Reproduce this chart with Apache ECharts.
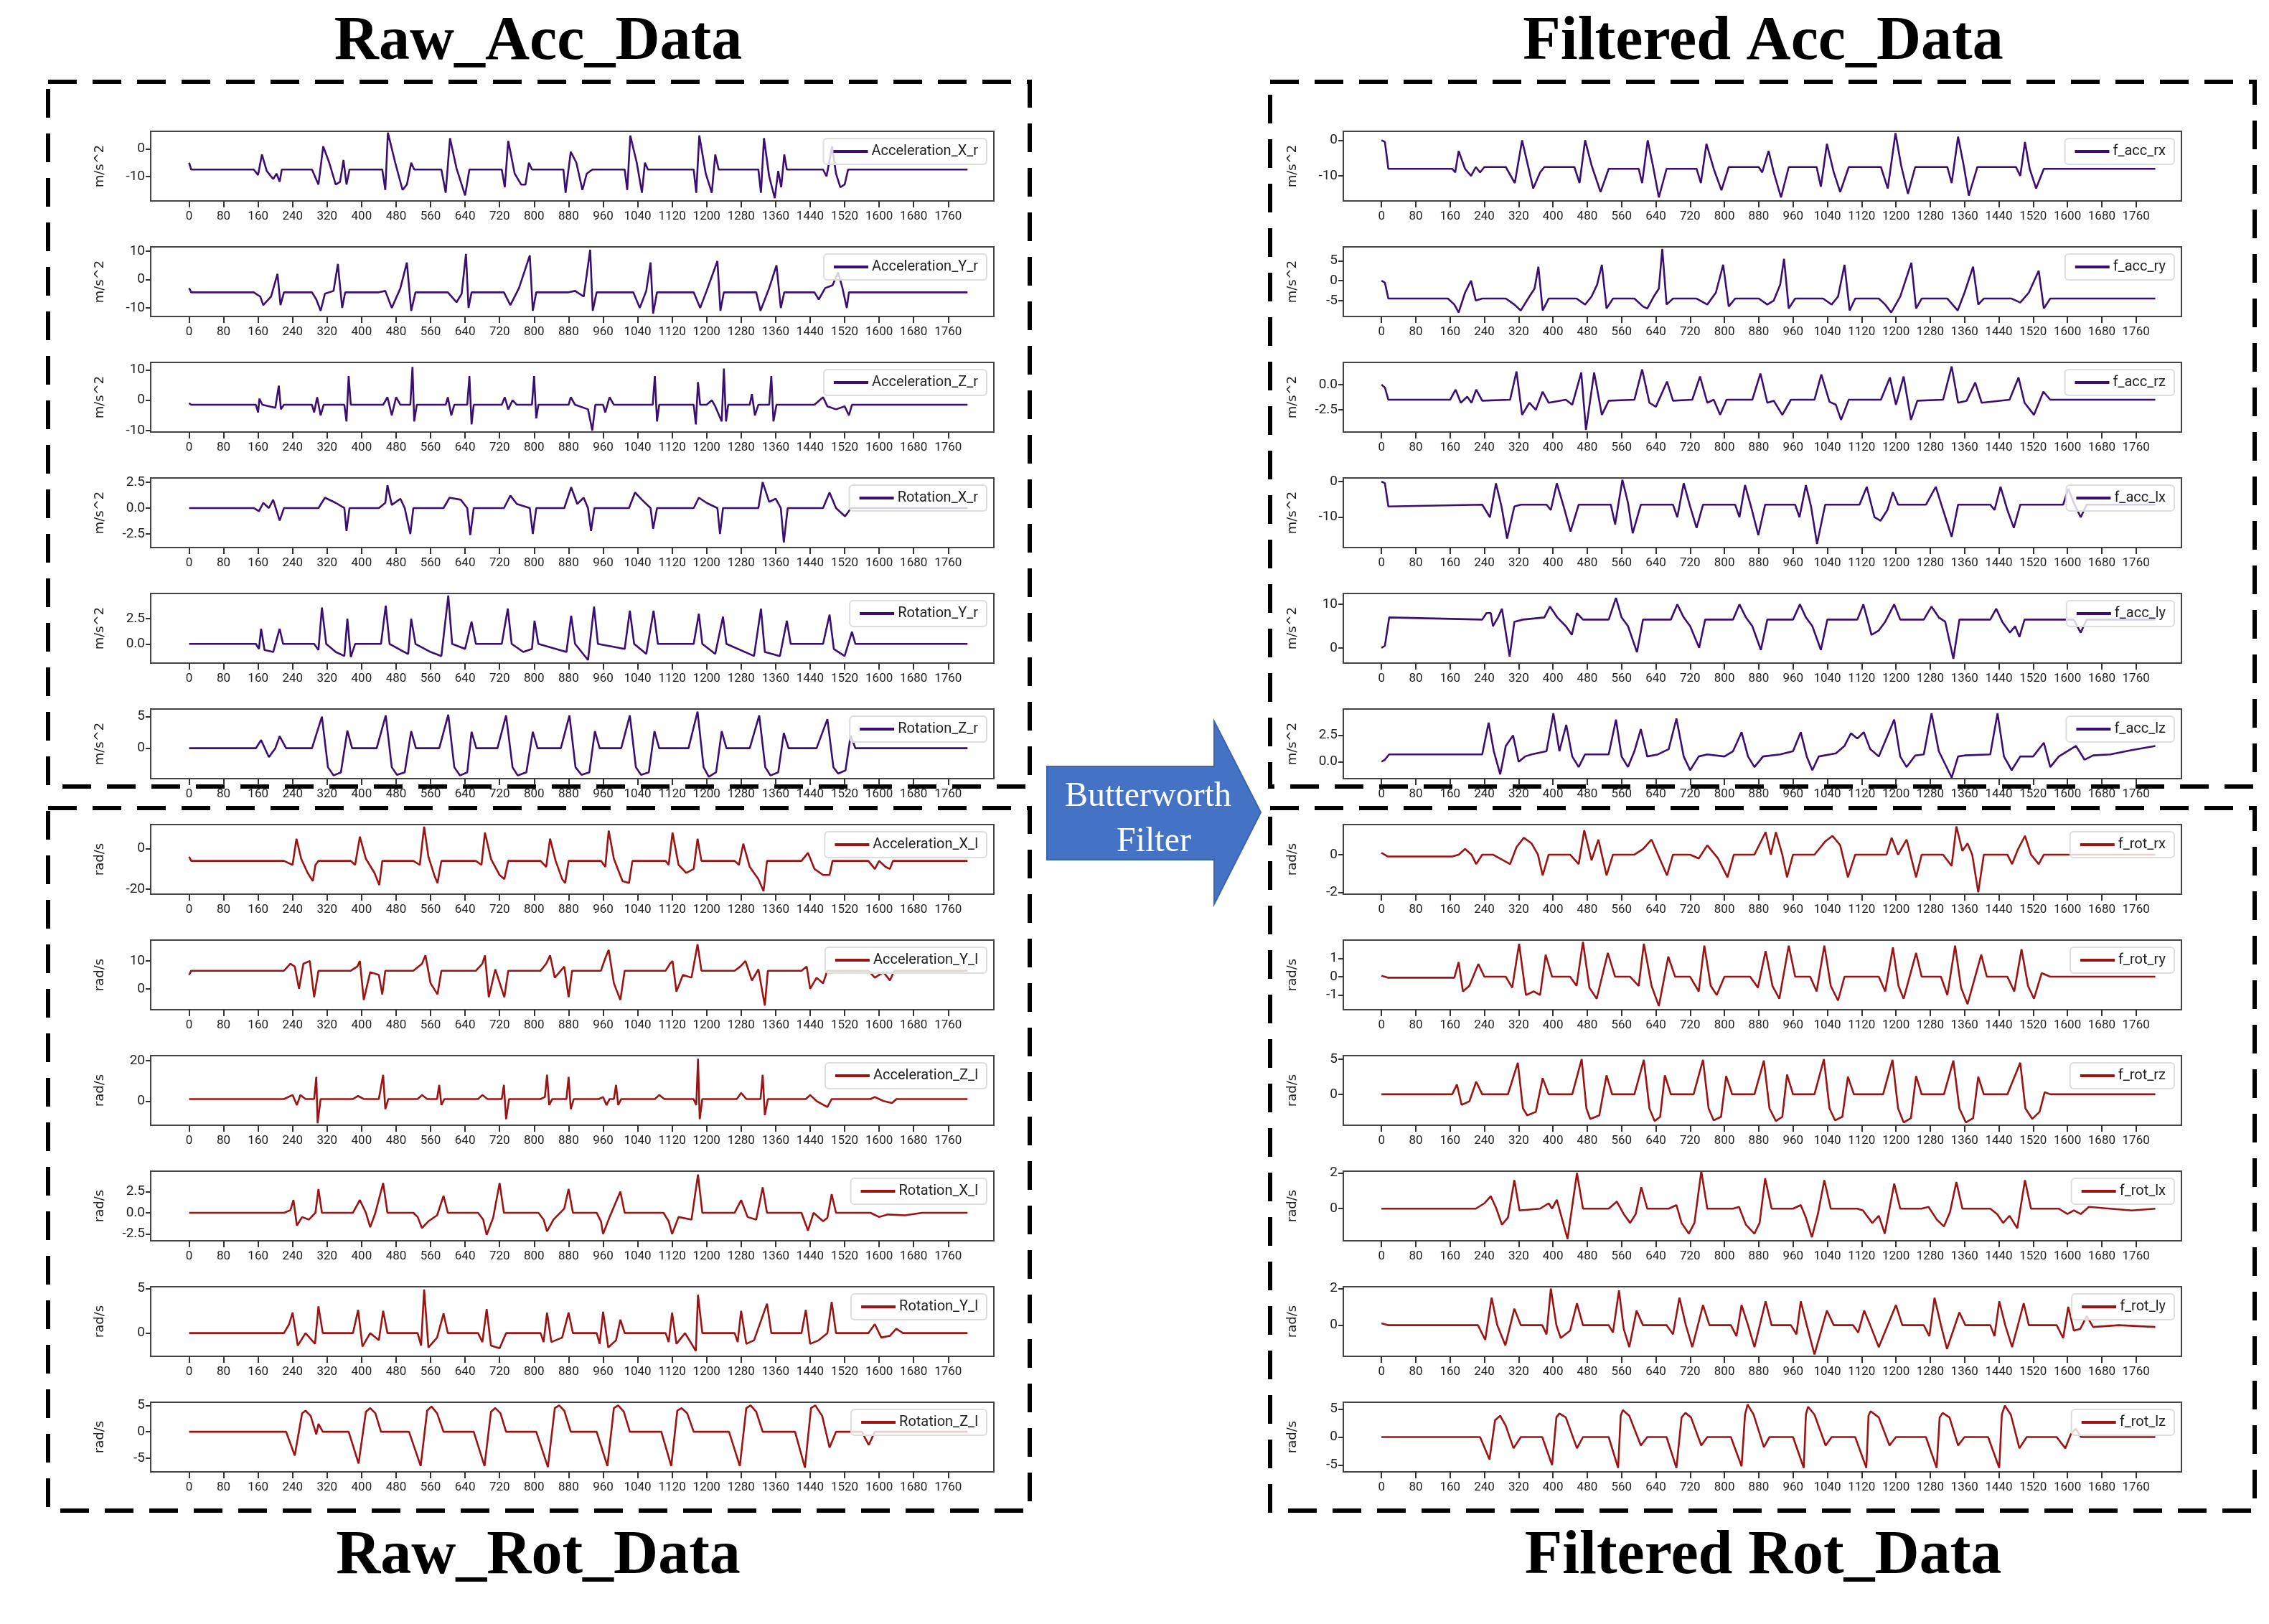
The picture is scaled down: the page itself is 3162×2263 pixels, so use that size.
<!DOCTYPE html>
<html>
<head>
<meta charset="utf-8">
<script src="https://cdn.jsdelivr.net/npm/echarts@6/dist/echarts.min.js"></script>
<style>
html,body{margin:0;padding:0;background:#fff}
#main{width:3162px;height:2263px}
</style>
</head>
<body>
<div id="main"></div>
<script>
// ---------------- data ----------------
const xTicks=[0,80,160,240,320,400,480,560,640,720,800,880,960,1040,1120,1200,1280,1360,1440,1520,1600,1680,1760]

// left column, top block (raw acc)
const accXr=[[0,-5],[5,-7.5],[150,-7.5],[160,-9.5],[169,-2],[180,-8],[195,-11],[203,-9],[210,-12],[215,-7.5],[285,-7.5],[300,-13],[311,1],[325,-5],[340,-13],[350,-12],[358,-4],[365,-13],[372,-7.5],[448,-7.5],[455,-15],[461,6],[478,-5],[495,-15],[505,-13],[515,-5],[522,-7.5],[585,-7.5],[595,-16],[605,4],[620,-7],[640,-17],[650,-7.5],[725,-7.5],[732,-14],[740,3],[755,-9],[770,-13],[780,-13],[788,-5],[795,-7.5],[868,-7.5],[873,-16],[885,-1],[898,-5],[912,-15],[922,-9],[935,-7.5],[1010,-7.5],[1016,-15],[1023,5],[1038,-5],[1050,-16],[1057,-5],[1064,-7.5],[1170,-7.5],[1176,-16],[1183,5],[1198,-9],[1212,-16],[1220,-2],[1228,-7.5],[1320,-7.5],[1326,-16],[1333,4],[1345,-10],[1358,-18],[1366,-8],[1373,-14],[1380,-2],[1386,-7.5],[1470,-7.5],[1478,-10],[1491,1],[1500,-9],[1510,-14],[1520,-13],[1528,-7.5],[1805,-7.5]]
const accYr=[[0,-3],[5,-4.5],[150,-4.5],[165,-6],[172,-9],[190,-6],[205,2],[212,-9],[220,-4.5],[285,-4.5],[295,-7],[305,-11],[315,-5],[335,-4],[345,5.5],[355,-10],[362,-4.5],[440,-4.5],[455,-4],[470,-10],[490,-3],[505,6],[515,-11],[525,-4.5],[600,-4.5],[620,-8],[632,-5],[642,9],[648,-10],[655,-4.5],[730,-4.5],[745,-9],[765,-3],[790,8.5],[797,-11],[805,-4.5],[880,-4.5],[895,-4],[915,-6],[930,10.5],[936,-11],[945,-4.5],[1030,-4.5],[1045,-10],[1060,-4],[1070,6],[1076,-12],[1085,-4.5],[1170,-4.5],[1185,-10],[1200,-4],[1225,6.5],[1232,-11],[1240,-4.5],[1315,-4.5],[1325,-11],[1345,-3],[1362,5],[1372,-10],[1380,-4.5],[1450,-4.5],[1460,-7],[1475,-3],[1492,-2],[1505,2.5],[1515,-3],[1525,-10],[1530,-4.5],[1805,-4.5]]
const accZr=[[0,-1],[5,-1.5],[155,-1.5],[160,-4],[163,0.5],[170,-1.5],[200,-2.5],[208,4.8],[213,-3],[220,-1.5],[285,-1.5],[290,-4],[297,1],[305,-5],[312,-1.5],[360,-1.5],[365,-7],[370,8],[375,-1.5],[450,-1.5],[460,1],[470,-5],[480,1],[490,-1.5],[513,-1.5],[518,11],[522,-7],[528,-1.5],[595,-1.5],[600,1],[608,-5],[615,-1.5],[645,-1.5],[650,8],[655,-8],[660,-1.5],[725,-1.5],[732,1],[740,-3],[750,0],[760,-1.5],[795,-1.5],[800,8],[805,-6],[810,-1.5],[880,-1.5],[885,1],[895,-1.5],[925,-3],[935,-10],[942,-1.5],[960,-1.5],[965,-4],[975,1],[985,-1.5],[1075,-1.5],[1080,8],[1085,-7],[1090,-1.5],[1170,-1.5],[1175,-8],[1180,6],[1185,-1.5],[1200,-1.5],[1212,0],[1220,-2],[1235,-7],[1240,10.5],[1245,-7],[1250,-1.5],[1300,-1.5],[1305,2],[1312,-5],[1320,-1.5],[1345,-1.5],[1350,8],[1355,-7],[1362,-1.5],[1450,-1.5],[1470,1],[1480,-2],[1500,-3],[1520,-2],[1530,-5],[1537,-1.5],[1805,-1.5]]
const rotXr=[[0,0],[150,0],[162,-0.3],[172,0.5],[185,0],[195,0.8],[210,-1.2],[220,0],[300,0],[315,1],[340,0.5],[360,0],[365,-2.2],[372,0],[440,0],[455,0.5],[460,2.2],[470,0.3],[490,0.9],[500,0],[513,-2.5],[520,0],[590,0],[604,1],[630,0.8],[645,0],[652,-2.6],[660,0],[730,0],[745,1.2],[760,0.4],[790,0],[797,-2.5],[805,0],[870,0],[886,2],[900,0.4],[915,1],[925,0],[932,-2.2],[940,0],[1020,0],[1034,1.5],[1050,0.8],[1070,0],[1076,-2],[1085,0],[1170,0],[1182,1],[1200,0.5],[1225,0],[1231,-2.5],[1238,0],[1320,0],[1330,2.5],[1345,0.6],[1360,0.9],[1372,0],[1379,-3.3],[1388,0],[1470,0],[1485,1.5],[1500,0],[1521,-0.8],[1535,0],[1805,0]]
const rotYr=[[0,0],[155,0],[162,-0.5],[167,1.5],[175,-0.6],[195,-0.8],[210,1.5],[218,0],[290,0],[300,-0.6],[308,3.6],[318,0],[340,-0.8],[360,-1.2],[367,2.5],[375,-1.3],[385,0],[445,0],[456,3.8],[465,0],[490,-0.6],[508,-1],[515,2.5],[525,0],[560,-0.8],[585,-1.2],[601,4.8],[610,0],[640,-0.5],[655,2.2],[665,0],[725,0],[739,3.5],[748,0],[775,-0.8],[795,-0.5],[801,2.3],[810,0],[875,-0.8],[886,2.8],[895,0],[925,-1.6],[939,3.7],[948,0],[1010,-0.5],[1022,3.3],[1032,0],[1060,-1],[1077,3.3],[1087,0],[1170,0],[1182,3],[1190,0],[1220,-1],[1238,2.7],[1246,0],[1310,-1.2],[1326,3.5],[1335,-0.8],[1370,-1.2],[1386,2.3],[1395,0],[1470,0],[1485,2.9],[1495,-0.5],[1520,-1.2],[1537,1.2],[1545,0],[1805,0]]
const rotZr=[[0,0],[155,0],[167,1.3],[185,-1.4],[200,0],[210,1.9],[225,0],[285,0],[308,5],[322,-3],[335,-4.3],[352,-3.8],[367,2.8],[378,0],[435,0],[456,5.2],[470,-3],[482,-4.2],[500,-3.8],[515,2.7],[526,0],[580,0],[601,5.3],[615,-3],[628,-4.3],[645,-3.8],[655,2.6],[666,0],[715,0],[735,5.2],[750,-3],[762,-4.3],[782,-3.8],[797,2.6],[808,0],[862,0],[882,5.2],[896,-3],[910,-4.2],[928,-3.8],[941,2.7],[952,0],[1002,0],[1022,5.2],[1036,-3],[1048,-4.2],[1066,-3.8],[1079,2.7],[1090,0],[1158,0],[1179,5.8],[1193,-3],[1205,-4.5],[1222,-3.8],[1235,2.7],[1246,0],[1300,0],[1322,5.2],[1336,-3],[1348,-4.3],[1366,-3.8],[1379,2.4],[1390,0],[1455,0],[1480,4.6],[1494,-3],[1505,-4],[1522,-3.5],[1534,2],[1545,0],[1805,0]]

// left column, bottom block (raw rot)
const accXl=[[0,-4],[5,-6],[220,-6],[240,-8],[249,5],[260,-5],[275,-12],[287,-16],[293,-8],[300,-6],[375,-6],[385,-8],[396,6],[410,-5],[430,-12],[441,-18],[448,-6],[520,-6],[535,-8],[545,11],[555,-4],[570,-14],[576,-17],[585,-6],[665,-6],[678,-8],[686,8],[700,-5],[720,-13],[731,-15],[740,-6],[815,-6],[828,-9],[837,5],[850,-6],[865,-15],[872,-17],[880,-6],[955,-6],[965,-9],[973,9],[985,-5],[1005,-16],[1020,-17],[1028,-6],[1105,-6],[1112,-8],[1121,8],[1135,-8],[1153,-12],[1170,-10],[1179,5],[1188,-6],[1265,-6],[1275,-8],[1285,2.5],[1300,-9],[1320,-15],[1332,-21],[1340,-6],[1420,-6],[1435,-2],[1450,-10],[1470,-13],[1485,-13],[1492,-6],[1575,-6],[1590,-10],[1600,-6],[1615,-9],[1625,-10],[1632,-6],[1805,-6]]
const accYl=[[0,5],[5,6.5],[220,6.5],[235,9],[245,8],[255,0],[265,9],[280,10],[290,-3],[300,6.5],[375,6.5],[390,8],[396,10],[405,-4],[420,6],[440,5],[448,-2],[455,6.5],[520,6.5],[540,9],[548,12],[560,2],[576,-2],[585,6.5],[665,6.5],[680,9],[686,12],[695,-3],[710,7],[731,-3],[740,6.5],[815,6.5],[828,9],[837,12],[848,4],[870,8],[880,-3],[888,6.5],[955,6.5],[965,11],[973,14],[985,2],[1000,-4],[1010,6.5],[1105,6.5],[1115,9],[1121,10],[1130,-1],[1145,5],[1165,4],[1179,16],[1188,6.5],[1265,6.5],[1278,8],[1290,10],[1305,3],[1320,7],[1335,-6],[1342,6.5],[1420,6.5],[1432,8],[1440,0],[1455,4],[1470,2],[1480,6.5],[1575,6.5],[1590,4],[1610,6],[1625,3],[1635,6.5],[1805,6.5]]
const accZl=[[0,1],[220,1],[240,3],[250,-2],[258,3],[270,1],[290,1],[295,12],[298,-11],[305,1],[380,1],[392,2.5],[405,1],[440,1],[450,13],[455,-4],[462,1],[530,1],[540,3],[552,1],[575,1],[580,8],[585,-2],[592,1],[670,1],[680,3],[692,1],[725,1],[730,8],[735,-9],[742,1],[815,1],[825,2],[830,13],[835,-2],[842,1],[875,1],[880,12],[885,-4],[892,1],[950,1],[960,2],[968,-2],[975,1],[985,1],[990,8],[995,-2],[1002,1],[1080,1],[1090,3],[1102,1],[1170,1],[1176,-2],[1180,21],[1184,-9],[1190,1],[1270,1],[1280,4],[1292,1],[1325,1],[1330,13],[1335,-7],[1342,1],[1430,1],[1440,3],[1455,0],[1480,-3],[1490,1],[1580,1],[1590,2],[1610,0],[1630,-1],[1640,1],[1805,1]]
const rotXl=[[0,0],[220,0],[235,0.3],[242,1.5],[250,-1.5],[262,-0.5],[278,-0.8],[293,0],[300,2.8],[308,0],[380,0],[396,1.5],[410,0],[420,-1.7],[432,0],[450,3.5],[460,0],[520,0],[530,-0.5],[540,-1.8],[555,-1],[575,-0.3],[590,2],[600,0],[670,0],[682,-0.8],[690,-2.6],[705,-0.6],[720,3.5],[730,0],[810,0],[822,-0.8],[830,-2.2],[845,-0.8],[870,0.5],[880,2.8],[890,0],[945,0],[955,-1],[960,-2.5],[975,-0.5],[1000,2.5],[1010,0],[1100,0],[1112,-1],[1120,-2.5],[1135,-0.5],[1165,-0.8],[1180,4.5],[1190,0],[1265,0],[1280,1.5],[1295,-0.5],[1315,-0.8],[1330,3],[1340,0],[1420,0],[1435,-2.1],[1448,0],[1470,-1],[1480,-0.6],[1490,2.2],[1500,0],[1580,0],[1600,-0.5],[1620,-0.2],[1660,-0.3],[1700,0],[1805,0]]
const rotYl=[[0,0],[220,0],[232,1],[240,2.3],[252,-1.4],[270,0],[292,-1.2],[300,3],[310,0],[380,0],[392,2.6],[402,-1.5],[420,0],[440,-0.8],[450,2.5],[460,0],[530,0],[538,-1.4],[545,4.9],[555,-1.6],[575,-0.5],[590,2.2],[600,0],[670,0],[680,-1],[690,2.7],[700,-1.4],[720,-1.7],[735,0],[815,0],[822,-1],[830,2.3],[840,-1],[865,-0.5],[880,2.3],[890,0],[945,0],[952,-1.2],[960,2.4],[972,-1.6],[990,-0.8],[1000,1.5],[1010,0],[1105,0],[1112,-1],[1120,2.3],[1130,-1.2],[1150,0],[1175,-2],[1180,4.3],[1190,0],[1265,0],[1272,-1],[1280,2.5],[1292,-1.2],[1310,-0.8],[1340,3.3],[1350,0],[1420,0],[1430,2.6],[1440,-1.2],[1460,-0.8],[1480,0],[1490,3.5],[1500,0],[1575,0],[1590,1],[1605,-0.5],[1625,-0.3],[1640,0.5],[1655,0],[1805,0]]
const rotZl=[[0,0],[225,0],[245,-4.5],[262,3.5],[270,4],[282,3],[295,-0.5],[300,1.5],[310,0],[370,0],[393,-6],[410,3.8],[420,4.5],[432,3.5],[445,0],[510,0],[537,-6.5],[552,4],[562,4.8],[575,3.5],[590,0],[660,0],[685,-6.5],[700,3.8],[710,4.5],[722,3.5],[735,0],[805,0],[832,-6.7],[848,4.5],[858,5],[870,4],[885,0],[945,0],[970,-6.5],[985,4.5],[995,5],[1008,3.8],[1022,0],[1095,0],[1118,-6.5],[1132,4],[1142,4.5],[1155,3.5],[1170,0],[1252,0],[1277,-6.5],[1292,4.5],[1302,5],[1315,3.8],[1330,0],[1405,0],[1428,-6.8],[1442,4.5],[1452,5],[1468,3],[1485,-3],[1500,0],[1560,0],[1576,-2.5],[1590,0],[1805,0]]

// right column, top block (filtered acc)
const fAccRx=[[0,0],[8,-0.5],[16,-8],[165,-8],[172,-9],[180,-3],[195,-8],[209,-10],[220,-7.5],[230,-9],[240,-7.5],[290,-7.5],[311,-12],[328,0],[354,-13.5],[370,-9],[380,-7.5],[450,-7.5],[462,-12],[475,0],[490,-7],[511,-14.5],[530,-8],[600,-8],[608,-12],[621,0],[633,-7],[647,-16],[665,-8],[735,-8],[745,-12],[758,-1],[775,-8],[793,-14],[810,-7.5],[880,-7.5],[888,-9],[903,-3],[915,-9],[932,-16],[950,-7.5],[1015,-7.5],[1025,-13],[1039,-1],[1055,-9],[1070,-14.5],[1090,-7.5],[1165,-7.5],[1181,-13.5],[1199,2],[1212,-7],[1228,-15],[1245,-7.5],[1320,-7.5],[1330,-12],[1345,1],[1358,-7],[1370,-15.5],[1390,-7.5],[1480,-7.5],[1490,-10],[1501,-0.5],[1512,-8],[1527,-13.5],[1545,-8],[1805,-8]]
const fAccRy=[[0,0],[8,-0.5],[16,-4.5],[155,-4.5],[170,-6],[180,-8],[195,-3],[209,0],[220,-5],[235,-4.5],[290,-4.5],[310,-6],[325,-7.5],[345,-4],[357,-2],[366,3.5],[376,-7.5],[390,-4.5],[455,-4.5],[475,-6],[490,-4],[503,-1],[514,4],[525,-7],[540,-4.5],[590,-4.5],[610,-6.5],[620,-7],[635,-4],[647,-2],[655,8],[665,-6],[680,-4.5],[735,-4.5],[760,-6],[780,-3],[797,4],[810,-6.5],[825,-4.5],[880,-4.5],[900,-6],[915,-5],[930,-1],[939,5.5],[950,-7],[965,-4.5],[1030,-4.5],[1050,-6],[1065,-4],[1080,4],[1092,-7.5],[1105,-4.5],[1160,-4.5],[1175,-6],[1189,-8],[1210,-4],[1236,4.5],[1247,-7],[1260,-4.5],[1320,-4.5],[1344,-7.5],[1360,-3],[1380,3.5],[1392,-6],[1405,-4.5],[1470,-4.5],[1490,-5.5],[1510,-3],[1533,2.5],[1545,-7],[1560,-4.5],[1805,-4.5]]
const fAccRz=[[0,0],[8,-0.3],[16,-1.5],[160,-1.5],[173,-0.5],[185,-1.8],[200,-1.2],[210,-1.8],[221,-0.5],[235,-1.6],[300,-1.5],[315,1.3],[328,-3],[345,-1.8],[360,-2.5],[376,-0.7],[390,-1.8],[430,-1.5],[445,-2],[466,1.2],[477,-4.5],[496,1.2],[514,-3],[530,-1.6],[590,-1.5],[608,1.5],[625,-1.8],[640,-2.2],[666,0.3],[680,-1.6],[725,-1.5],[743,0.8],[760,-1.8],[775,-1.5],[790,-3],[805,-1.5],[865,-1.5],[884,1.1],[900,-1.8],[915,-1.6],[935,-3],[955,-1.5],[1010,-1.5],[1026,1],[1045,-1.7],[1060,-2],[1072,-3.5],[1090,-1.5],[1165,-1.5],[1186,0.7],[1200,-2],[1218,0.8],[1235,-3.5],[1250,-1.6],[1310,-1.5],[1330,1.8],[1345,-1.8],[1365,-1.6],[1385,0.2],[1400,-1.8],[1465,-1.5],[1486,0.7],[1500,-1.8],[1522,-3],[1544,-0.7],[1560,-1.5],[1805,-1.5]]
const fAccLx=[[0,0],[8,-0.5],[16,-7],[235,-6.5],[253,-10],[267,-0.5],[280,-7],[293,-16],[310,-7],[325,-6.5],[385,-6.5],[395,-8],[409,-0.5],[425,-7],[441,-14],[460,-6.5],[535,-6.5],[545,-12],[562,0.5],[575,-6],[586,-14.5],[605,-6.5],[680,-6.5],[690,-10],[705,-0.5],[720,-7],[735,-13],[750,-6.5],[825,-6.5],[835,-10],[848,-1],[862,-7],[879,-15],[895,-6.5],[965,-6.5],[975,-10],[990,-1],[1002,-7],[1016,-17.5],[1035,-6.5],[1115,-6.5],[1132,-1.5],[1150,-10],[1164,-11],[1180,-8],[1193,-3],[1205,-6.5],[1270,-6.5],[1293,-1.5],[1310,-8],[1330,-15.5],[1345,-6.5],[1420,-6.5],[1430,-8],[1444,-1.5],[1460,-8],[1475,-13],[1490,-6.5],[1590,-6.5],[1602,-2],[1615,-6],[1631,-10],[1645,-6.5],[1805,-6.5]]
const fAccLy=[[0,0],[8,0.5],[18,7],[235,6.5],[245,8],[255,8],[260,5],[272,7],[281,9],[299,-2],[310,6],[330,6.5],[380,7],[393,9.5],[410,7],[430,5],[444,3],[456,8],[470,6.5],[530,6.5],[547,11.5],[560,7],[575,5],[596,-1],[610,6.5],[675,6.5],[690,10],[705,7],[720,5],[741,0],[755,6.5],[820,6.5],[835,10],[850,7],[865,5],[885,-0.5],[900,6.5],[960,6.5],[976,10],[990,7],[1005,5],[1025,-0.5],[1040,6.5],[1110,6.5],[1124,10],[1135,6],[1143,3],[1160,4],[1175,6],[1196,10],[1210,6.5],[1265,6.5],[1283,9.5],[1300,7],[1315,6],[1334,-2.5],[1348,6.5],[1420,6.5],[1434,9],[1448,6],[1466,3.5],[1478,5],[1488,2.5],[1500,6.5],[1615,6.5],[1631,3.5],[1645,6.5],[1805,6.5]]
const fAccLz=[[0,0],[8,0.2],[18,0.7],[235,0.7],[250,3.7],[262,1],[277,-1.2],[290,1.5],[307,2.5],[320,0],[335,0.5],[350,0.7],[385,1],[401,4.6],[415,1],[431,3.5],[445,0.5],[460,-0.5],[475,0.7],[530,0.7],[547,4],[560,0.5],[575,-0.5],[590,1],[605,3.1],[620,0.5],[645,0.7],[670,1.2],[688,4.1],[705,0.5],[720,-0.8],[740,0.5],[760,0.7],[800,0.5],[820,1],[840,2.8],[855,0.5],[870,-0.5],[890,0.5],[930,0.7],[960,1],[978,2.8],[992,0.5],[1005,-0.8],[1020,0.5],[1060,0.8],[1080,1.5],[1095,2.7],[1110,2.2],[1125,2.8],[1140,1.2],[1160,0.5],[1196,4],[1210,0.5],[1225,-0.5],[1245,0.6],[1265,0.7],[1283,4.6],[1300,1],[1330,-1.5],[1345,0.5],[1360,0.6],[1420,0.7],[1437,4.6],[1452,0.5],[1470,-0.8],[1490,0.5],[1520,0.5],[1545,1.8],[1560,-0.5],[1580,0.5],[1620,1.5],[1640,0.2],[1660,0.6],[1700,0.7],[1750,1.1],[1805,1.5]]

// right column, bottom block (filtered rot)
const fRotRx=[[0,0.1],[15,-0.1],[165,-0.1],[180,0],[195,0.3],[210,0],[221,-0.5],[235,0],[260,0],[300,-0.5],[315,0.4],[332,0.9],[350,0.6],[365,0],[376,-1.1],[390,0],[440,0],[460,-0.5],[473,1.3],[490,-0.3],[506,0.8],[525,-1.1],[540,0],[590,0],[610,0.3],[630,0.8],[645,0],[666,-1.1],[680,0],[720,0],[740,-0.2],[760,0.5],[785,-0.2],[807,-1.2],[822,0],[870,0],[896,1.2],[908,0],[920,1.2],[935,0],[946,-1.2],[960,0],[1010,0],[1035,0.7],[1052,1],[1070,0.5],[1088,-1.2],[1105,0],[1160,0],[1178,0],[1190,0.9],[1205,0],[1225,0.8],[1247,-1.2],[1260,0],[1310,0],[1330,-0.6],[1341,1.5],[1355,0.2],[1367,0.6],[1378,0],[1392,-2],[1405,0],[1460,0],[1471,-0.5],[1485,0.3],[1501,1],[1515,0],[1533,-0.5],[1545,0],[1805,0]]
const fRotRy=[[0,0.05],[15,-0.05],[170,-0.05],[180,0.8],[190,-0.8],[205,-0.5],[226,0.7],[240,0],[290,0],[305,-0.6],[321,1.8],[337,-1],[355,-0.8],[370,-1],[383,1.2],[398,0],[440,0],[455,-0.5],[470,1.9],[485,-0.6],[502,-1.2],[528,1.3],[545,0],[580,0],[600,-0.5],[612,1.8],[630,-0.5],[647,-1.6],[669,1.1],[685,0],[720,0],[740,-0.8],[753,1.7],[768,-0.5],[782,-1],[800,0],[860,0],[878,-0.6],[896,1.4],[912,-0.5],[928,-1.2],[950,1.7],[965,0],[1000,0],[1015,-0.8],[1033,1.7],[1048,-0.5],[1065,-1.3],[1080,0],[1160,0],[1175,-0.8],[1193,1.6],[1206,-0.5],[1218,-1.2],[1247,1.3],[1260,0],[1305,0],[1320,-1],[1338,1.7],[1352,-0.6],[1367,-1.5],[1399,1.2],[1412,0],[1460,0],[1476,-0.8],[1493,1.5],[1508,-0.5],[1522,-1.2],[1540,0.2],[1560,0],[1805,0]]
const fRotRz=[[0,0],[165,0],[176,1.4],[187,-1.5],[205,-1],[221,1.8],[235,0],[295,0],[318,4.5],[330,-2],[340,-3],[360,-2.5],[376,2.3],[390,0],[445,0],[467,5],[478,-2],[487,-3.5],[508,-3],[525,2.7],[538,0],[590,0],[612,4.9],[625,-2],[637,-3.8],[650,-3.2],[661,2.7],[675,0],[728,0],[750,4.9],[763,-2],[775,-3.7],[792,-3.2],[804,2.6],[818,0],[870,0],[892,4.8],[905,-2],[920,-3.8],[935,-3.2],[946,2.8],[960,0],[1010,0],[1032,5],[1045,-2],[1058,-3.7],[1075,-3.2],[1088,2.5],[1102,0],[1170,0],[1192,4.9],[1205,-2],[1218,-4],[1235,-3.4],[1247,2.6],[1260,0],[1312,0],[1334,4.8],[1348,-2],[1363,-4],[1380,-3.4],[1392,2.5],[1405,0],[1460,0],[1490,4.5],[1502,-2],[1518,-3.5],[1535,-2.5],[1547,0.3],[1560,0],[1805,0]]
const fRotLx=[[0,0],[220,0],[240,0.3],[255,0.7],[268,0],[281,-0.9],[295,-0.5],[310,1.6],[322,-0.1],[370,0],[390,0.3],[398,0],[409,0.5],[434,-1.7],[456,2],[470,0],[530,0],[549,0.4],[565,-0.3],[580,-0.8],[593,-0.3],[606,1.2],[620,0],[670,0],[688,0.2],[700,-0.8],[717,-1.4],[730,-0.8],[746,2.1],[760,0],[820,0],[834,0.1],[850,-0.9],[870,-1.4],[882,-0.8],[895,1.7],[910,0],[960,0],[978,0.2],[990,-0.5],[1004,-1.6],[1018,-0.3],[1033,1.6],[1048,0],[1110,0],[1123,-0.1],[1145,-0.8],[1160,-0.4],[1174,-1.4],[1196,1.4],[1210,0],[1260,0],[1276,0.1],[1295,-0.6],[1312,-1],[1326,-0.2],[1341,1.5],[1355,0],[1420,0],[1436,-0.3],[1450,-0.8],[1465,-0.4],[1483,-1.1],[1501,1.6],[1515,0],[1580,0],[1600,-0.3],[1615,-0.1],[1631,-0.3],[1650,0.1],[1700,0],[1750,-0.1],[1805,0]]
const fRotLy=[[0,0.1],[15,0],[225,0],[242,-0.8],[257,1.5],[270,0],[289,-1.1],[310,0.9],[325,0],[375,0],[385,-0.5],[395,2],[408,0],[418,-0.7],[440,-0.3],[456,1.2],[470,0],[530,0],[540,-0.4],[554,1.9],[565,-0.2],[578,-1.2],[595,0.8],[610,0],[665,0],[680,-0.5],[695,1.5],[710,0],[725,-1.2],[750,1.1],[765,0],[815,0],[828,-0.6],[840,1.1],[855,0],[870,-1.2],[896,1.3],[910,0],[955,0],[968,-0.5],[978,1.3],[992,0],[1010,-1.6],[1039,0.8],[1055,0],[1100,0],[1112,-0.4],[1126,0.8],[1140,0],[1160,-1.2],[1200,1.1],[1215,0],[1265,0],[1278,-0.6],[1290,1.5],[1305,0],[1319,-1.3],[1348,0.7],[1362,0],[1420,0],[1430,-0.6],[1441,1.3],[1455,0],[1471,-1.2],[1498,1.2],[1510,0],[1575,0],[1590,-0.7],[1602,1],[1615,-0.3],[1630,-0.2],[1645,0.5],[1660,-0.1],[1720,0],[1805,-0.1]]
const fRotLz=[[0,0],[230,0],[252,-4],[265,3],[277,3.8],[290,2],[308,-2],[325,0],[375,0],[398,-5],[408,3.5],[415,4.2],[430,3.5],[456,-2],[470,0],[530,0],[552,-5.5],[558,3.8],[563,4.8],[578,3.8],[605,-1.5],[620,0],[665,0],[688,-5.5],[700,3.5],[709,4.3],[722,3.5],[746,-1.5],[760,0],[815,0],[840,-5.2],[848,4],[854,5.8],[868,4],[892,-1.8],[905,0],[960,0],[985,-5.5],[990,4],[995,5.4],[1010,4],[1036,-1.5],[1050,0],[1105,0],[1131,-5.5],[1136,3.8],[1141,4.6],[1160,3.5],[1185,-1.5],[1200,0],[1270,0],[1295,-5.5],[1302,3.5],[1309,4.3],[1325,3.5],[1345,-1.5],[1360,0],[1415,0],[1441,-5.5],[1447,4],[1454,5.6],[1468,4],[1488,-2],[1505,0],[1575,0],[1595,-2],[1608,0.5],[1619,1.5],[1632,0],[1805,0]]

const leftNames=['Acceleration_X_r','Acceleration_Y_r','Acceleration_Z_r','Rotation_X_r','Rotation_Y_r','Rotation_Z_r','Acceleration_X_l','Acceleration_Y_l','Acceleration_Z_l','Rotation_X_l','Rotation_Y_l','Rotation_Z_l']
const rightNames=['f_acc_rx','f_acc_ry','f_acc_rz','f_acc_lx','f_acc_ly','f_acc_lz','f_rot_rx','f_rot_ry','f_rot_rz','f_rot_lx','f_rot_ly','f_rot_lz']
const leftData=[accXr,accYr,accZr,rotXr,rotYr,rotZr,accXl,accYl,accZl,rotXl,rotYl,rotZl]
const rightData=[fAccRx,fAccRy,fAccRz,fAccLx,fAccLy,fAccLz,fRotRx,fRotRy,fRotRz,fRotLx,fRotLy,fRotLz]
const leftRange=[[-19,6.5],[-13,11.5],[-10.5,12.5],[-3.8,2.9],[-1.9,5],[-4.8,6.2],[-22.5,12],[-7.5,17.5],[-12,22.5],[-3.3,4.9],[-2.6,5.2],[-7.6,5.6]]
const rightRange=[[-17,2.5],[-9,8.5],[-4.7,2.2],[-18.5,1],[-3.5,12.5],[-1.6,5],[-2.1,1.6],[-1.8,2],[-4.4,5.5],[-1.8,2.1],[-1.7,2.1],[-6.2,6.2]]
const leftTicks=[['0','-10'],['10','0','-10'],['10','0','-10'],['2.5','0.0','-2.5'],['2.5','0.0'],['5','0'],['0','-20'],['10','0'],['20','0'],['2.5','0.0','-2.5'],['5','0'],['5','0','-5']]
const rightTicks=[['0','-10'],['5','0','-5'],['0.0','-2.5'],['0','-10'],['10','0'],['2.5','0.0'],['0','-2'],['1','0','-1'],['5','0'],['2','0'],['2','0'],['5','0','-5']]
const units=['m/s^2','m/s^2','m/s^2','m/s^2','m/s^2','m/s^2','rad/s','rad/s','rad/s','rad/s','rad/s','rad/s']

// ---------------- layout ----------------
const chart=echarts.init(document.getElementById('main'))
const accColor='#3b0f70', rotColor='#9b1414'
const tickFont='Roboto,"DejaVu Sans",sans-serif'
let grids=[],xAxes=[],yAxes=[],series=[],legends=[]

function addPanel(col,i,name,data,range,ticks){
    const idx=grids.length
    const top=183+161*i
    const left=col==0?210:1872
    const width=col==0?1175:1168
    const color=i<6?accColor:rotColor
    grids.push({left:left,top:top,width:width,height:97,show:true,borderColor:'#444',borderWidth:2,backgroundColor:'#fff'})
    xAxes.push({type:'value',gridIndex:idx,min:-89,max:1866,position:'bottom',
        axisLine:{show:false,onZero:false},splitLine:{show:false},
        axisTick:{show:true,length:9,lineStyle:{color:'#333',width:2},customValues:xTicks},
        axisLabel:{fontSize:17,fontFamily:tickFont,color:'#222',margin:13,hideOverlap:false,showMaxLabel:true,customValues:xTicks,
            formatter:function(v){return String(v)}}})
    const tv=ticks.map(Number)
    yAxes.push({type:'value',gridIndex:idx,min:range[0],max:range[1],position:'left',
        name:units[i],nameLocation:'middle',nameGap:62,nameRotate:90,
        nameTextStyle:{fontSize:18,fontFamily:'"DejaVu Sans",sans-serif',color:'#222'},
        axisLine:{show:false,onZero:false},splitLine:{show:false},
        axisTick:{show:true,length:7,lineStyle:{color:'#333',width:2},customValues:tv},
        axisLabel:{fontSize:19,fontFamily:tickFont,color:'#222',margin:8,customValues:tv,
            formatter:function(v){const k=tv.findIndex(t=>Math.abs(t-v)<1e-9);return k>=0?ticks[k]:''}}})
    series.push({name:name,type:'line',xAxisIndex:idx,yAxisIndex:idx,data:data,
        showSymbol:false,symbol:'none',lineStyle:{color:color,width:2.6},itemStyle:{color:color},
        animation:false,z:2})
    legends.push({data:[{name:name,icon:'rect'}],top:top+10,right:col==0?3162-1385+10:3162-3040+10,
        orient:'vertical',itemWidth:48,itemHeight:4,itemGap:0,padding:[8,12,8,14],
        backgroundColor:'rgba(255,255,255,0.8)',borderColor:'#ddd',borderWidth:2,borderRadius:5,
        textStyle:{fontSize:20,fontFamily:tickFont,color:'#222'},selectedMode:false,z:5})
}
for(let i=0;i<12;i++){
    addPanel(0,i,leftNames[i],leftData[i],leftRange[i],leftTicks[i])
    addPanel(1,i,rightNames[i],rightData[i],rightRange[i],rightTicks[i])
}

const dash={stroke:'#000',lineWidth:6,lineDash:[40,22],fill:'none'}
const titleFont='bold 86px "Liberation Serif","Times New Roman",serif'
const graphic=[
    {type:'rect',shape:{x:67,y:114,width:1368,height:982},style:dash,silent:true},
    {type:'rect',shape:{x:67,y:1126,width:1368,height:979},style:dash,silent:true},
    {type:'rect',shape:{x:1770,y:114,width:1372,height:982},style:dash,silent:true},
    {type:'rect',shape:{x:1770,y:1126,width:1372,height:979},style:dash,silent:true},
    {type:'polygon',shape:{points:[[1459,1068],[1692,1068],[1692,1005],[1757,1132],[1692,1260],[1692,1198],[1459,1198]]},style:{fill:'#4472c4',stroke:'#3a64b0',lineWidth:2},z:10},
    {type:'text',x:1600,y:1110,style:{text:'Butterworth',font:'48px "Liberation Serif",serif',fill:'#fff',align:'center',verticalAlign:'middle'},z:11},
    {type:'text',x:1608,y:1173,style:{text:'Filter',font:'48px "Liberation Serif",serif',fill:'#fff',align:'center',verticalAlign:'middle'},z:11},
    {type:'text',x:750,y:60,style:{text:'Raw_Acc_Data',font:titleFont,fill:'#000',align:'center',verticalAlign:'middle'}},
    {type:'text',x:2457,y:60,style:{text:'Filtered Acc_Data',font:titleFont,fill:'#000',align:'center',verticalAlign:'middle'}},
    {type:'text',x:750,y:2170,style:{text:'Raw_Rot_Data',font:titleFont,fill:'#000',align:'center',verticalAlign:'middle'}},
    {type:'text',x:2457,y:2170,style:{text:'Filtered Rot_Data',font:titleFont,fill:'#000',align:'center',verticalAlign:'middle'}}
]

chart.setOption({
    backgroundColor:'#fff',
    animation:false,
    grid:grids,
    xAxis:xAxes,
    yAxis:yAxes,
    legend:legends,
    series:series,
    graphic:graphic
})
</script>
</body>
</html>
